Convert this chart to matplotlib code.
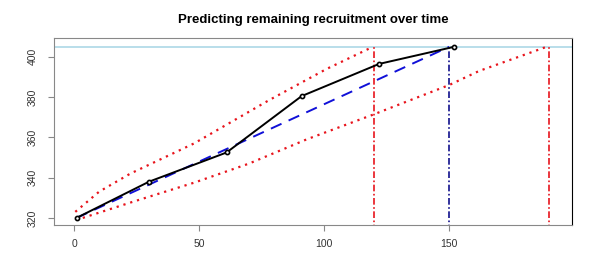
import matplotlib.pyplot as plt

# observed recruitment (day, total recruited)
days = [1, 30, 61, 91, 122, 152]
recruited = [320, 338, 352.5, 380.5, 396.5, 405]

# linear projection to target
proj_days = [1, 150]
proj_total = [320, 405]

# upper / lower prediction bounds
upper_days = [0.5, 10, 22.5, 48, 78, 101, 119.5]
upper_total = [323, 333, 342, 357, 378.5, 394, 405]
lower_days = [3.5, 23.5, 48, 70, 93, 120, 150, 162, 189]
lower_total = [320, 328, 337.5, 347, 359, 371.5, 386, 393, 405]

target = 405
finish_early = 120
finish_mid = 150
finish_late = 190

plt.rcParams['font.family'] = ['Liberation Sans', 'DejaVu Sans']

fig = plt.figure(figsize=(5.99, 2.73), dpi=100)
ax = fig.add_axes([0.0902, 0.176, 0.865, 0.685])

ax.axhline(target, color="lightblue", lw=1.2, zorder=1)

ax.plot(upper_days, upper_total, color="#e8141c", lw=1.6, ls=(0, (1, 2.2)), zorder=2)
ax.plot(lower_days, lower_total, color="#e8141c", lw=1.6, ls=(0, (1, 2.2)), zorder=2)
ax.plot(proj_days, proj_total, color="#1010d8", lw=1.4, ls=(0, (6, 4)), zorder=3)
ax.plot(days, recruited, color="black", lw=1.4, marker="o", ms=3,
        mfc="white", mec="black", mew=1.2, zorder=4)

ax.vlines(finish_early, 300, target, color="#e8141c", lw=1.2, ls=(0, (4, 1.5, 1, 1.5)))
ax.vlines(finish_mid, 300, target, color="#10108c", lw=1.2, ls=(0, (4, 1.5, 1, 1.5)))
ax.vlines(finish_late, 300, target, color="#e8141c", lw=1.2, ls=(0, (4, 1.5, 1, 1.5)))

ax.set_xlim(-8, 199.2)
ax.set_ylim(316.5, 409.4)
ax.set_xticks([0, 50, 100, 150])
ax.set_yticks([320, 340, 360, 380, 400])

for s in ["top", "left", "bottom"]:
    ax.spines[s].set_color("#888888")
ax.spines["right"].set_color("black")
ax.tick_params(axis="both", length=4, width=0.8, color="#888888",
               labelsize=7.5, labelcolor="#333333")
ax.tick_params(axis="x", pad=6)
ax.tick_params(axis="y", pad=8)
for lab in ax.get_yticklabels():
    lab.set_rotation(90)
    lab.set_va("center")

ax.set_title("Predicting remaining recruitment over time", fontsize=9.5,
             fontweight="bold", pad=11)

fig.savefig("out.png", dpi=100)
